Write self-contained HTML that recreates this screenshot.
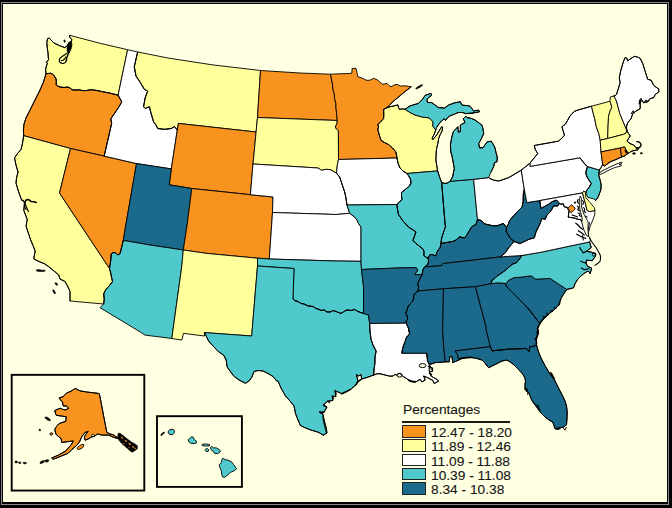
<!DOCTYPE html>
<html><head><meta charset="utf-8"><title>Percentages by state</title>
<style>
html,body{margin:0;padding:0;background:#FFFFE1;}
body{width:672px;height:508px;overflow:hidden;position:relative;font-family:"Liberation Sans",sans-serif;}
svg{position:absolute;left:0;top:0;display:block;}
.st{stroke:#000;stroke-width:0.9;stroke-linejoin:round;}
.ln{stroke:#000;fill:none;stroke-linejoin:round;stroke-linecap:round;}
.lg{position:absolute;font-size:12.8px;line-height:14px;color:#151515;-webkit-text-stroke:0.1px #151515;white-space:pre;transform:scaleX(1.074);transform-origin:0 0;}
</style></head><body>
<svg width="672" height="508" viewBox="0 0 672 508">
<rect x="0" y="0" width="672" height="508" fill="#000"/>
<rect x="1" y="2" width="668" height="503" fill="#8a8a8a"/>
<rect x="2" y="3" width="666" height="501" fill="#000"/>
<rect x="3" y="4" width="664" height="498" fill="#FFFFE1"/>
<path class="st" fill="#FFFF9C" d="M69.7,35.3 100,43.3 127.6,49.7 118.1,95.2 109.6,93.1 102.9,91.8 96.2,90.4 90.9,89.8 86.5,90.5 82.9,90.7 78.8,89.8 75.5,90.2 72.1,89.8 70,88 68.1,87.1 64,87.5 60.1,87.1 57.5,86 56.1,84.4 56.3,81.5 56.1,79.1 54.1,75.7 52.6,74.2 50.7,73.3 46,73.7 45.6,70 46,67.2 47.5,63 46.4,62.2 48.5,59.7 48,53 47.2,47.2 46.8,42.2 47.7,38.4 49.3,38.2 53.9,43 59.3,45.5 64.7,47.6 67.2,45.9 68.9,42.6 71.4,41.7 71.8,39.7 69.7,37.2 69.7,35.3Z"/>
<path class="st" fill="#F7931E" d="M46,73.7 43.5,82 40,90 35,100 30,110 26,118 24,124 23.4,130 23.7,135.7 70.5,148.5 104.2,156.1 111.7,123.4 110.9,118.7 116.7,110.3 119.5,106 121.8,101.9 118.1,95.2 109.6,93.1 102.9,91.8 96.2,90.4 90.9,89.8 86.5,90.5 82.9,90.7 78.8,89.8 75.5,90.2 72.1,89.8 70,88 68.1,87.1 64,87.5 60.1,87.1 57.5,86 56.1,84.4 56.3,81.5 56.1,79.1 54.1,75.7 52.6,74.2 50.7,73.3 46,73.7Z"/>
<path class="st" fill="#FFFF9C" d="M23.7,135.7 22.5,143 21,149.5 17.5,153.5 14.5,158 16,165 18,172 16.5,178 16,183 18,190 21.3,199.3 24.6,202 23.8,210.4 27.2,219.4 26.1,226.2 28.3,233 30.6,239.8 33,245.5 35.2,251.1 33.7,259 39,261.5 45,264 50,267.7 54,271 58.7,275 60,279 65,281.5 67.5,286 70,291.5 70,301 103.7,304 104.3,299 103.7,294 105,291 107.5,287.7 110,285 112.5,281.5 110.5,272 109.5,268.5 59.5,193 70.5,148.5 23.7,135.7Z"/>
<path class="st" fill="#F7931E" d="M70.5,148.5 104.2,156.1 136.5,163.6 125.8,225 123.3,240.4 120.8,250.8 120,253.7 117.9,255 116.2,253.3 115,252.5 112.1,252.9 111.2,254.2 110.8,260 109.5,268.5 59.5,193 70.5,148.5Z"/>
<path class="st" fill="#FFFFFF" d="M127.6,49.7 137.7,52 134.3,66.8 136,76 141,83.5 144.4,89.4 147.7,91.1 145.2,97.8 143.6,106.7 145.2,108.4 149.4,106.7 151.1,113.4 153.6,121.8 156.1,125.1 157.8,128.5 164.5,129.3 171.2,128.5 174.5,126.5 177.3,130.1 171.3,168.9 136.5,163.6 104.2,156.1 111.7,123.4 110.9,118.7 116.7,110.3 119.5,106 121.8,101.9 118.1,95.2 127.6,49.7Z"/>
<path class="st" fill="#FFFF9C" d="M137.7,52 168,58 212,64.8 260.5,70.5 257.5,117.5 256.1,132 178.4,123.4 177.3,130.1 174.5,126.5 171.2,128.5 164.5,129.3 157.8,128.5 156.1,125.1 153.6,121.8 151.1,113.4 149.4,106.7 145.2,108.4 143.6,106.7 145.2,97.8 147.7,91.1 144.4,89.4 141,83.5 136,76 134.3,66.8 137.7,52Z"/>
<path class="st" fill="#F7931E" d="M178.4,123.4 256.1,132 253,164 250.4,194.7 191.8,188.5 169.2,184.8 171.3,168.9 177.3,130.1Z"/>
<path class="st" fill="#1B6A8B" d="M136.5,163.6 171.3,168.9 169.2,184.8 191.8,188.5 187.1,225 183.3,250 150,245 123.3,240.4 125.8,225 136.5,163.6Z"/>
<path class="st" fill="#F7931E" d="M191.8,188.5 250.4,194.7 273,197 272.5,212.5 269.3,259 257.5,258.2 206,253.3 183.3,250 187.1,225 191.8,188.5Z"/>
<path class="st" fill="#4FC9CC" d="M123.3,240.4 150,245 183.3,250 181.7,267 171.8,338.5 145,335.1 140,331.8 100,307.7 103.7,304 104.3,299 103.7,294 105,291 107.5,287.7 110,285 112.5,281.5 110.5,272 109.5,268.5 110.8,260 111.2,254.2 112.1,252.9 115,252.5 116.2,253.3 117.9,255 120,253.7 120.8,250.8 123.3,240.4Z"/>
<path class="st" fill="#FFFF9C" d="M183.3,250 206,253.3 257.5,258.2 257.5,266 251.7,336 204.5,332.6 204.5,336 183.5,333.4 181.9,340.1 171.8,338.5 181.7,267 183.3,250Z"/>
<path class="st" fill="#F7931E" d="M260.5,70.5 300,73 330.5,74.2 331.5,79 332.6,85.1 333,89.5 334.2,93.5 334.6,98.5 335.9,103.5 336,108.5 336.7,113.6 336.9,117 337.3,120.5 257.5,117.5 260.5,70.5Z"/>
<path class="st" fill="#FFFF9C" d="M257.5,117.5 337.3,120.5 336.9,123.6 335.3,127 336.5,129 338.4,130.5 338.5,159.5 337.2,166 336.5,173.2 330.5,169.7 326,169.3 321.7,170.3 318,168 253,164 256.1,132 257.5,117.5Z"/>
<path class="st" fill="#FFFFFF" d="M253,164 318,168 321.7,170.3 326,169.3 330.5,169.7 336.5,173.2 339.7,177 342,184 344.7,192 346,198 347,205 349.7,213.3 336,214.5 272.5,212.5 273,197 250.4,194.7 253,164Z"/>
<path class="st" fill="#FFFFFF" d="M272.5,212.5 336,214.5 349.7,213.3 354.7,217 357,220 358.5,223.5 361,227 361,261.3 336,261 269.3,259 272.5,212.5Z"/>
<path class="st" fill="#4FC9CC" d="M257.5,258.2 269.3,259 336,261 361,261.3 361.5,269.5 363.5,286.5 363.5,313.5 361,312.7 358,311.5 354.7,309.5 351,310.5 347,310 344,311.5 341,313.5 336,311.5 333,310.5 330.5,312 327,312 324,310 321,310.5 318,309 316,308.5 313,306.5 308,306 304,304 301,303.5 298,301.5 295,300.8 293,298.5 294,268.5 257.5,266 257.5,258.2Z"/>
<path class="st" fill="#4FC9CC" d="M257.5,266 294,268.5 293,298.5 295,300.8 298,301.5 301,303.5 304,304 308,306 313,306.5 316,308.5 318,309 321,310.5 324,310 327,312 330.5,312 333,310.5 336,311.5 341,313.5 344,311.5 347,310 351,310.5 354.7,309.5 358,311.5 361,312.7 363.5,313.5 368.5,315 369.7,323.5 370,331 371,339 373,345 376.2,351.2 375,357 375,362.5 374,370 373.7,375 366.9,377.5 361.7,379 361,374.6 358.6,376 356.5,374.6 357.3,378.3 358,380.5 355.8,384.9 350.6,389.4 346,391.8 341.8,393.8 338.8,392.3 335.1,390.8 335.9,396.7 332.2,396 332.9,400.4 327.7,401.2 323.3,404.9 327,407.1 324,412.2 319.6,412.2 323.3,414.5 323.6,418 324.8,423 326.2,428 327,432.9 323.3,435.1 318.1,432.2 310.8,430 304.9,427.7 300.4,425.5 298,420 295.5,413.5 294,406 290,401 285.5,396 281,388 278,381 276.7,381 273,376.5 268,373.5 263,371 258,370.5 254,371.5 252,377 249,381 245.5,383.3 239,380 233.8,376.1 230,371 227.1,366.9 226.2,360.2 223.7,355.2 218.7,351.9 213,346 208.6,341 204.5,332.6 251.7,336 257.5,266Z"/>
<path class="st" fill="#F7931E" d="M330.5,74.2 351.8,73.3 352.1,68.4 356,68.4 357,72.5 357.7,76.7 361,77.6 364.4,79.3 367,80.4 370.2,80.1 373.6,78.3 377.8,80.1 380.3,82.6 382.8,84.3 387,83.4 389,85.5 391.2,86.8 394,85 397,84.3 400.4,86 405,85.8 411.2,86.8 407,90 403.7,92.6 398.5,97 393.7,101 390,104.6 387,107.7 383.6,109.4 383.8,114 383.6,118.6 380.5,122 377.8,124.5 378.6,127 377.8,129.5 379.4,135.3 381.1,140.4 384.5,142.5 388.5,144.5 392.5,148 396,152 397,158 338.5,159.5 338.4,130.5 336.5,129 335.3,127 336.9,123.6 337.3,120.5 336.9,117 336.7,113.6 336,108.5 335.9,103.5 334.6,98.5 334.2,93.5 333,89.5 332.6,85.1 331.5,79 330.5,74.2Z"/>
<path class="st" fill="#FFFFFF" d="M338.5,159.5 397,158 398,163 400,168 403,171 407,173.5 408.5,175.7 410.5,179 411,183 409.5,186 407,188 404,190.5 401.5,192.5 401.5,196 402,199.5 399.5,202 397,204.5 347,205 346,198 344.7,192 342,184 339.7,177 336.5,173.2 337.2,166 338.5,159.5Z"/>
<path class="st" fill="#4FC9CC" d="M347,205 397,204.5 397.5,209.5 398.5,214.5 403,221 408.5,227 413.3,230.1 416,232 414.5,236 413,240.5 416,243.5 419.2,246 423.5,249.5 424.1,252.4 423.8,255.4 427,257.8 428.3,258.5 428.6,260.7 428,264.3 426.5,265.2 425.1,266.9 423.8,267.8 422.9,270.2 422,274.7 414.9,274.7 414.9,273.5 417.3,271.4 417.6,269.6 416.1,267.6 400,267.9 361.5,269.5 361,261.3 361,227 358.5,223.5 357,220 354.7,217 349.7,213.3 347,205Z"/>
<path class="st" fill="#1B6A8B" d="M361.5,269.5 400,267.9 416.1,267.6 417.6,269.6 417.3,271.4 414.9,273.5 414.9,274.7 422,274.7 421.6,275.7 419.5,279.5 417.6,283.6 418.6,287 418.2,291 415.5,293 413.7,295.4 413.6,298.5 412.7,301.3 410,304 407.8,307.2 407.2,310 405.8,313.1 407.2,316 407.8,319 406.2,321 406.4,323.2 369.7,323.5 368.5,315 363.5,313.5 363.5,286.5 361.5,269.5Z"/>
<path class="st" fill="#FFFFFF" d="M369.7,323.5 406.4,323.2 407.5,326 408.8,328.9 409,331.5 409.8,333.8 407.5,336 405.8,338.7 405.2,341.5 403.9,344.6 402.6,348.5 401.9,353.2 426.7,353.2 427.2,357 427.6,361 429.3,364.3 431,368.5 432.7,371 429.3,371.9 431,376 433.5,377.5 436.9,379.4 438.5,381.1 434.3,383.6 432.7,380.2 430,379 427.6,377.7 423.5,376 424.5,378 425.1,380.2 421.8,381.9 420.1,379.4 418,380.5 415.9,381.9 413,381.8 410.1,381.1 406.7,378.6 402.5,376 400,373.5 398.5,373.8 396.7,375.2 395,374.4 393,376 390,376.2 385,375 380,373.7 377,373.8 373.7,375 374,370 375,362.5 375,357 376.2,351.2 373,345 371,339 370,331 369.7,323.5Z"/>
<path class="st" fill="#FFFF9C" d="M383.6,109.4 387,107.7 390.5,106.6 393.7,106 397.8,104.9 398.6,107.5 399.5,109.4 402.5,108.8 405,109.3 410,112.5 415,115 422.5,117.1 429.2,117.9 432.9,121.7 432.9,126.2 435.8,130 434.2,134.2 432.1,138.3 432.9,139.6 436.7,135 439.2,130.8 441.7,126.7 442.6,127.1 442.2,130.8 440.2,134.6 438.7,138.3 437.9,143.3 436.7,148.3 436.2,152 435.9,160 437.6,170.9 407,173.5 403,171 400,168 398,163 397,158 396,152 392.5,148 388.5,144.5 384.5,142.5 381.1,140.4 379.4,135.3 377.8,129.5 378.6,127 377.8,124.5 380.5,122 383.6,118.6 383.8,114 383.6,109.4Z"/>
<path class="st" fill="#4FC9CC" d="M407,173.5 437.6,170.9 440.1,178.5 441.7,182.6 443.5,205 445.1,223.7 445.5,226.7 444,231 442.6,235.1 441.5,239 441,243.5 440.1,247.7 438.5,249.5 436.9,252.4 435.7,256 432.1,254.5 429.8,254.8 428.6,257.4 427,257.8 423.8,255.4 424.1,252.4 423.5,249.5 419.2,246 416,243.5 413,240.5 414.5,236 416,232 413.3,230.1 408.5,227 403,221 398.5,214.5 397.5,209.5 397,204.5 399.5,202 402,199.5 401.5,196 401.5,192.5 404,190.5 407,188 409.5,186 411,183 410.5,179 408.5,175.7 407,173.5Z"/>
<path class="st" fill="#4FC9CC" d="M441.7,182.6 445.1,183.5 447.8,182.8 450.1,181.3 473.6,179.3 477.5,219.5 476,224.5 471.9,226.7 470,229.5 467.8,233.4 465.2,237.6 463,237.8 460.2,236.8 458,238 456,240.1 451.9,241.8 446,242.6 441,243.5 441.5,239 442.6,235.1 444,231 445.5,226.7 445.1,223.7 443.5,205 441.7,182.6Z"/>
<path class="st" fill="#FFFFFF" d="M473.6,179.3 488.6,177.6 491,179 493.6,180.1 498.7,181 504,179.3 508.7,177.6 514,174.5 521.3,170.1 524.3,189.5 523.4,193.4 523.2,201.8 522.1,206.9 519.5,209.5 516.3,212.8 514,215.5 511.2,218.6 509.5,221 508.5,224 506.5,227.3 503.7,223.7 501.2,224.2 497.1,225.9 492,225.6 487,224.5 484.4,223.7 481.1,220.5 477.5,219.5 473.6,179.3Z"/>
<path class="st" fill="#1B6A8B" d="M441,243.5 446,242.6 451.9,241.8 456,240.1 458,238 460.2,236.8 463,237.8 465.2,237.6 467.8,233.4 470,229.5 471.9,226.7 476,224.5 477.5,219.5 481.1,220.5 484.4,223.7 487,224.5 492,225.6 497.1,225.9 501.2,224.2 503.7,223.7 506.5,227.3 506.3,231.8 508.5,235 510.5,238.5 514.2,241.5 511.5,244.5 508.8,247.7 505.4,252.7 503,254.8 500.4,256.9 470,260.5 442.6,263.6 441.8,265.6 425.1,266.9 426.5,265.2 428,264.3 428.6,260.7 428.3,258.5 427,257.8 428.6,257.4 429.8,254.8 432.1,254.5 435.7,256 436.9,252.4 438.5,249.5 440.1,247.7 441,243.5Z"/>
<path class="st" fill="#1B6A8B" d="M425.1,266.9 441.8,265.6 442.6,263.6 470,260.5 500.4,256.9 521.8,255.5 518.8,260.2 516.5,262.7 512.1,264.4 508.5,267.5 505.4,270.3 501,273.5 497.1,276.1 494,279 492,280.3 491.2,283.7 475.4,286.7 443.5,288.8 418.2,291 418.6,287 417.6,283.6 419.5,279.5 421.6,275.7 422,274.7 422.9,270.2 423.8,267.8 425.1,266.9Z"/>
<path class="st" fill="#1B6A8B" d="M418.2,291 443.5,288.8 442.7,330 443.5,345 445.2,361.8 440,362.4 435.2,362.6 432,363.8 429.3,364.3 427.6,361 427.2,357 426.7,353.2 401.9,353.2 402.6,348.5 403.9,344.6 405.2,341.5 405.8,338.7 407.5,336 409.8,333.8 409,331.5 408.8,328.9 407.5,326 406.4,323.2 406.2,321 407.8,319 407.2,316 405.8,313.1 407.2,310 407.8,307.2 410,304 412.7,301.3 413.6,298.5 413.7,295.4 415.5,293 418.2,291Z"/>
<path class="st" fill="#1B6A8B" d="M443.5,288.8 475.4,286.7 486,326.5 486.2,330 488.5,339 490.4,346.7 455.3,350.9 457.8,355.1 458.6,360.1 455.5,361.5 452.8,362.6 452.3,359 451.9,356.5 449.9,356.5 449.6,359 449.4,361.8 445.2,361.8 443.5,345 442.7,330 443.5,288.8Z"/>
<path class="st" fill="#1B6A8B" d="M475.4,286.7 491.2,283.7 498,282.8 505.5,283.5 507,287 511.5,291.5 517,297 520,300.1 524,304 527.5,307.7 531,312 534.2,316 537,320 540.1,323.4 538.5,326 537.6,328.6 538.3,331 538.2,333.6 536.8,336 536,338.6 536.6,342 536.5,345 533,346.5 530,346.5 529.5,349 529,351.5 527.5,350 526.5,348.5 507,349.3 492.1,350.9 490.4,346.7 488.5,339 486.2,330 486,326.5 475.4,286.7Z"/>
<path class="st" fill="#1B6A8B" d="M505.5,283.5 509,280 514,277.7 520,277.3 527,276.3 531.7,275.9 533.8,278 535.9,279.2 550.1,278.4 558.5,284 566.9,289.4 564,293.5 561,298.5 560,301.5 559.3,304.3 556.5,307.5 553.5,310.2 549,313.8 545.1,316.9 542.5,320 540.1,323.4 537,320 534.2,316 531,312 527.5,307.7 524,304 520,300.1 517,297 511.5,291.5 507,287 505.5,283.5Z"/>
<path class="st" fill="#1B6A8B" d="M490.4,346.7 492.1,350.9 507,349.3 526.5,348.5 527.5,350 529,351.5 529.5,349 530,346.5 533,346.5 536.5,345 538.5,352 541.5,359 545.5,366.5 550,374 554,379 558,387 562.7,396 565,401 566.5,406 567.2,412 567,418.5 566.5,424.7 564,427 559,428 555,428.5 554,425.5 552.7,422 549,420 545,417 541,413 537.7,408.5 534.5,404 531.5,399.7 530.5,397 529,393.5 527,391 525,389.7 525,385 525.5,381 525,378 522.7,374 518,369 514,365 511,362.5 507,360.1 502,361 497.1,363.5 493,365.5 488.8,367.7 487.1,366 485,363 482.1,360.1 477,358.5 472,357.6 467,357.8 462,358.5 458.6,360.1 457.8,355.1 455.3,350.9 490.4,346.7Z"/>
<path class="st" fill="#4FC9CC" d="M521.8,255.5 540.2,252.4 560,248.2 589.6,241.9 591.2,247.6 586.5,251.3 591.7,252.3 595.9,254.4 594.9,257 592.3,260.7 586.5,260.2 586,263.3 587.6,266.4 591.7,268 590.2,273.7 588.6,271.2 586.9,271.7 583.5,273.8 580.2,276.7 577.6,279.5 575.2,283.4 573.6,287.8 570,288.7 566.9,289.4 558.5,284 550.1,278.4 535.9,279.2 533.8,278 531.7,275.9 527,276.3 520,277.3 514,277.7 509,280 505.5,283.5 498,282.8 491.2,283.7 492,280.3 494,279 497.1,276.1 501,273.5 505.4,270.3 508.5,267.5 512.1,264.4 516.5,262.7 518.8,260.2 521.8,255.5Z"/>
<path class="st" fill="#4FC9CC" d="M405,109.3 410,112.5 415,115 422.5,117.1 429.2,117.9 432.9,121.7 432.9,126.2 435.8,130 437.1,126.7 440,122.5 444.2,118.7 445.4,120.4 449.2,116.2 453.3,114.6 458.3,112.5 462.5,112.5 465.8,113.7 467,113.5 473,113 479.5,111.8 478.7,110.1 473.7,111 471.5,108 469.5,105.9 462,105.1 460.3,101.7 454,103 448.6,105.1 444.4,108.1 438.5,107.6 435,105 431.8,102.6 427.5,102.5 426.8,99.2 431.8,95 431,93.4 425.1,95.4 422.6,99.2 418.4,103.4 410,105.9 405,109.3Z"/>
<path class="st" fill="#4FC9CC" d="M450.1,181.3 473.6,179.3 488.6,177.6 491.1,171.8 493.6,166.7 494.5,162.6 497,161.7 497.3,157 496.2,153.3 495,148 493.8,145.3 491.2,141.1 487.1,141.9 484.5,145.5 482.9,147.8 479.5,147.8 478.7,143.6 481.5,138.5 483.7,133.6 483,129 482,125.2 478.5,122.5 475.3,120.2 471,118.3 467,117.6 465.8,116.2 463.3,118.7 465,122.5 460.4,125 460.4,131.7 458.3,132.1 457.9,126.7 453.3,131.7 451.7,137.5 450.4,145 450.8,152 451.8,155 454.3,168.4 452.6,176.8 450.1,181.3Z"/>
<path class="st" fill="#1B6A8B" d="M506.5,227.3 508.5,224 509.5,221 511.2,218.6 514,215.5 516.3,212.8 519.5,209.5 522.1,206.9 523.2,201.8 523.4,193.4 524.3,189.5 526.8,202.6 539.8,200.6 541,208.5 545,206.2 548.5,204.3 551.9,201.8 556,200.1 558,201.5 559.4,203.5 557.8,206 553.6,206 551,211 546.9,215.2 545.2,219.4 541.9,218.5 540.2,223.5 536,232 534.3,237.8 528.5,239.5 523.4,242 520,243.6 514.2,241.5 510.5,238.5 508.5,235 506.3,231.8 506.5,227.3Z"/>
<path class="st" fill="#FFFFFF" d="M521.3,170.1 530.1,163 530.1,166.4 560,161.2 580,157.8 582.5,161 585.1,164.5 587.6,166.6 586.2,170.7 586,174 587.7,178.2 591.3,183.5 589,187.5 586.5,190.7 585.4,192.2 583.7,191.2 582.5,192.9 539.8,200.6 526.8,202.6 524.3,189.5 521.3,170.1Z"/>
<path class="st" fill="#FFFFFF" d="M500.4,256.9 503,254.8 505.4,252.7 508.8,247.7 511.5,244.5 514.2,241.5 520,243.6 523.4,242 528.5,239.5 534.3,237.8 536,232 540.2,223.5 541.9,218.5 545.2,219.4 546.9,215.2 551,211 553.6,206 557.8,206 559.4,203.5 560.8,204.2 563.3,203.7 564.2,206.7 567.5,207.5 569.3,210.6 568.7,213.3 568.3,217.1 570.8,217.5 574.2,217.9 577.5,219.2 580.8,219.6 581.7,221.7 582.5,225 584.2,230.8 586.7,235.8 589.2,236.7 590.8,240 589.6,241.9 560,248.2 540.2,252.4 521.8,255.5 500.4,256.9Z"/>
<path class="st" fill="#FFFFFF" d="M539.8,200.6 582.5,192.9 584.2,199.2 585.8,205 587.1,210.4 590,211.7 595,210.4 594.6,215 592.5,220.8 590,226.7 588.3,233.3 587.9,228.3 588.3,222.5 586.7,219.2 584.5,215.5 583,211.5 581.6,207 581.2,202 581.4,198.3 580.4,196 579.6,198.3 579.2,203 579.8,208 580.6,212.5 581.9,217 582.2,220 581.7,221.7 580.8,219.6 577.5,219.2 574.2,217.9 570.8,217.5 568.3,217.1 568.7,213.3 569.3,210.6 567.5,207.5 564.2,206.7 563.3,203.7 560.8,204.2 559.4,203.5 558,201.5 556,200.1 551.9,201.8 548.5,204.3 545,206.2 541,208.5 539.8,200.6Z"/>
<path class="st" fill="#FFFF9C" d="M582.5,192.9 583.7,191.2 585.4,192.2 585.8,197.5 590,202.5 594.2,207.5 595,210.4 590,211.7 587.1,210.4 585.8,205 584.2,199.2Z"/>
<path class="st" fill="#4FC9CC" d="M587.6,166.6 599.3,170 598.8,175.3 600.2,180.4 601.2,185 600.8,190 598.3,196.7 595.8,200.4 593.3,198.7 587.9,197.5 586.2,194.2 586.5,190.7 589,187.5 591.3,183.5 587.7,178.2 586,174 586.2,170.7 587.6,166.6Z"/>
<path class="st" fill="#FFFFFF" d="M530.1,163 532,160.5 534.3,157.8 537.7,153.6 535.2,149.4 534.3,145.5 549.4,142.8 558.6,141.1 562,138 564.5,135.2 563,130.5 561.9,126.8 565.3,124.3 567.5,120.5 569.5,116.7 571.8,113.8 574.5,111.4 578,110 591.5,106.2 593,112.5 594.6,118.4 596.3,126.8 598.8,133.5 600.2,140.2 601,151.9 602.7,164.5 601,167.5 599.3,170 587.6,166.6 585.1,164.5 582.5,161 580,157.8 560,161.2 530.1,166.4 530.1,163Z"/>
<path class="st" fill="#FFFFFF" d="M599.4,173.6 600.2,172 604,170 610,167 616,164.2 621.6,162.2 622.2,163 619,164.6 621.2,164.8 621.4,165.8 614.5,167.6 608,170.6 603,173.2 599.8,174.6Z"/>
<path class="st" fill="#FFFF9C" d="M591.5,106.2 610,101.3 610.9,103.6 611.8,107.8 610,111 608.5,116.7 608,128 607.7,138.5 600.2,140.2 598.8,133.5 596.3,126.8 594.6,118.4 593,112.5 591.5,106.2Z"/>
<path class="st" fill="#FFFF9C" d="M610,101.3 610.3,96.9 612,96.6 613.9,95.9 616.5,101 619.9,113.8 626,128.5 627,131 625.5,133.5 623.6,134.3 607.7,138.5 608,128 608.5,116.7 610,111 611.8,107.8 610.9,103.6 610,101.3Z"/>
<path class="st" fill="#FFFFFF" d="M613.9,95.9 615.4,95.4 616.7,94.2 617.4,91.5 618.4,88.5 620.1,82.7 619.3,77.7 620.9,70.1 623.4,61.7 625.1,57.6 626.8,58.1 627.6,60.9 631,58.5 634.3,56.4 637.5,57 640.2,58.4 642.7,63.4 645.2,71.5 647.7,79.3 651.1,80.2 653.6,85.2 656,87.2 658.6,88.9 658.9,91.9 655.3,94.4 653.6,97.7 650.2,98.6 647.7,101.9 643.5,102.8 641,98.6 640.2,103.6 640.2,108.6 636,111.1 632.7,113.7 631,118.7 627.6,122.9 626.4,127 627,131 626,128.5 619.9,113.8 616.5,101 613.9,95.9Z"/>
<path class="st" fill="#FFFF9C" d="M600.2,140.2 607.7,138.5 623.6,134.3 625.5,133.5 627,131 628.5,133.5 630.3,136 628.5,138.5 627,141 630,143.5 633.7,145.2 636,147.3 638.7,148.3 638,149.8 636,150.2 632,151 629.5,152.5 627.8,153.5 626.1,150.2 624.5,146.9 620.3,148 601,151.9 600.2,140.2Z"/>
<path class="st" fill="#F7931E" d="M601,151.9 620.3,148 621.6,156.9 616,159.5 610.2,161.9 604.4,166.1 602.7,164.5 601,151.9Z"/>
<path class="st" fill="#F7931E" d="M620.3,148 624.5,146.9 626.1,150.2 627.8,153.5 624.5,156 621.6,156.9 620.3,148Z"/>
<path class="st" fill="#F7931E" d="M571.6,204.6 575.4,208.7 571.2,212.9 567.3,208.7Z"/>
<path class="st" fill="#F7931E" d="M59.4,397.7 63.3,396.7 65,394.5 67.2,392.8 71.1,391.2 73.5,389.5 75.8,388.4 78,390 80.4,390.9 86.6,392 93.6,392.8 99.1,393.5 99.8,395.9 106.8,432.4 110,434 113.1,434.7 117.7,437.9 117.7,438.6 113.1,437.1 108.4,435.1 102.2,435.1 97.5,434 94.4,436.3 91.3,437.1 89,438.6 85.1,440.2 84.3,437.1 86,434 88.2,431.6 85.1,432.4 82,436.3 79.6,441.7 77.3,444.8 71.9,449.5 68,453.4 60.2,456.5 53.2,459.3 51.7,458.1 58.7,454.9 65.6,451.1 71.1,444.8 73.4,441 67.2,441.7 61.8,442.5 61,438.6 58.5,436.5 56.3,434.7 55.3,432 54.8,429.3 56.5,426.5 58.7,423.9 62,422.5 65.6,421.5 66.4,416.9 61.8,416.1 56.3,415.3 55.3,413 54.8,410.6 57.5,409.3 60.2,408.3 62.5,409.3 64.9,409.9 67,409.3 68.8,408.3 66.4,406 63.3,406 62.7,404 62.5,402.1 60.5,400Z"/>
<path fill="#000" stroke="#000" stroke-width="0.6" stroke-linejoin="round" d="M45,417 47.5,417.3 50,419.3 50.5,420.8 48,420.3 45.5,418.5Z"/>
<path fill="#000" stroke="#000" stroke-width="0.6" stroke-linejoin="round" d="M39,429.3 40.3,429.3 40.6,430.7 39.3,430.8Z"/>
<path class="st" fill="#F7931E" stroke-width="0.9" d="M50,433.2 52.2,432.8 53,434 51.5,435.2 50,434.6Z"/>
<path class="st" fill="#F7931E" stroke-width="1" d="M77.3,447.5 79.5,445.8 82,444.3 83.8,444.6 83.3,447 81,448.8 78.5,449.6 77.2,449Z"/>
<path fill="#000" stroke="#000" stroke-width="0.6" stroke-linejoin="round" d="M15,461.3 17,461 17.8,462.3 16,463 15,462.5Z"/>
<path fill="#000" stroke="#000" stroke-width="0.6" stroke-linejoin="round" d="M18.5,462.3 20.5,462 21,463.3 19,463.6Z"/>
<path fill="#000" stroke="#000" stroke-width="0.6" stroke-linejoin="round" d="M23,462.6 25.7,462.2 26.5,463.4 24,464Z"/>
<path fill="#000" stroke="#000" stroke-width="0.6" stroke-linejoin="round" d="M40,462.2 42.5,460.8 44.5,460.6 44,462.3 41.5,463.5 40.2,463.5Z"/>
<path fill="#000" stroke="#000" stroke-width="0.6" stroke-linejoin="round" d="M44.8,460.6 47.5,459.6 48.8,460 48.3,461.6 45.8,462.2Z"/>
<path fill="#000" stroke="#000" stroke-width="0.6" stroke-linejoin="round" d="M118.3,433 120.5,433.6 124,436.3 128,439.6 132,442.3 135,444 137.4,445.8 137.4,448.8 135,450.6 132.6,452.2 130.6,451.3 127.5,448.6 124.5,446 121.5,443.3 119,440.3 117.5,437.5Z"/>
<path fill="#F7931E" d="M120.6,436.4l1.8,0.6l1,1.6l-1.6,0.1zM124.3,439.6l2,0.8l0.8,1.5l-1.8,-0.2zM123,443l1.2,0.3l0.4,1l-1.1,-0.2zM128.3,442.8l2,0.8l0.7,1.5l-1.9,-0.3zM128.3,447l1.2,0.4l0.3,1l-1.1,-0.3zM132,446l1.8,0.6l0.4,1.4l-1.6,-0.2zM134.6,447.6l1.3,0.3l-0.2,1.2l-1.1,-0.2z"/>
<ellipse cx="93" cy="435.3" rx="1.5" ry="1.1" fill="#FFFFE1" stroke="#000" stroke-width="0.7"/>
<rect x="11.7" y="374.85" width="132.6" height="115.7" fill="none" stroke="#000" stroke-width="1.9"/>
<rect x="157" y="416.2" width="84.9" height="70.7" fill="none" stroke="#000" stroke-width="1.9"/>
<path class="ln" stroke-width="1.7" d="M161.3,435 162.6,433.6 164,432.6"/>
<path class="st" fill="#4FC9CC" stroke-width="1.3" d="M168.3,431 170,429.6 173,429.2 174.4,430.4 174.2,433 172.6,434.6 169.8,434.4 168.2,433Z"/>
<path class="st" fill="#4FC9CC" stroke-width="1.3" d="M188.3,439.6 190.6,437.8 191.6,436.6 193.2,437.2 194.3,439.6 196.3,441 196.6,442.8 194,443.6 190.6,443.2 188.5,441.4Z"/>
<path class="st" fill="#4FC9CC" stroke-width="1.2" d="M202,444.4 205.5,443.9 209.6,444.5 209.4,446 205.5,446 202.3,445.7Z"/>
<path class="st" fill="#4FC9CC" stroke-width="1.2" d="M205.4,449.2 207.3,448.4 208.7,449.6 208.2,451.4 206.2,451.6 205.2,450.5Z"/>
<path class="st" fill="#4FC9CC" stroke-width="1.3" d="M210.4,447.4 211.8,446.4 213.4,447.8 216.4,447.9 219.6,449.8 220.3,451.8 217.8,453.6 214.6,453.4 213,451 211,449.6Z"/>
<path class="st" fill="#4FC9CC" stroke-width="1.3" d="M222,459 223.3,458.3 225,459.6 227.6,460 231.5,461.8 233.6,464.5 236.6,468.8 234.2,470.8 230.5,472.4 227.6,475 224.6,477.4 222.6,477 221.6,474 221.3,470.6 219.6,466.8 219.4,464.6 221.4,462.6Z"/>
<path fill="#000" stroke="#000" stroke-width="0.6" stroke-linejoin="round" d="M415.8,88.3 418,86.6 420.5,85.3 422.3,84.6 422.3,85.6 420,87.2 417.5,88.6 416,89Z"/>
<path fill="#000" stroke="#000" stroke-width="0.6" stroke-linejoin="round" d="M36,270 39,269.6 42,270.2 45,270.2 45,271.3 41,271.5 37,271.3Z"/>
<path fill="#000" stroke="#000" stroke-width="0.6" stroke-linejoin="round" d="M55,282.8 56.8,283 57.8,285 56.5,285.3 55.2,284Z"/>
<path fill="#000" stroke="#000" stroke-width="0.6" stroke-linejoin="round" d="M52.8,289.8 54,290 55.7,293.3 54.6,293.8 53,291.5Z"/>
<path class="ln" stroke-width="1.2" d="M21.6,200 24,201.6 25.2,204 26.6,207.5 28.4,211.5"/>
<path class="ln" stroke-width="1.5" d="M24.4,203.5 26,200 28.6,199.6 31,201.4 34,201.8 36.3,202.4"/>
<path class="ln" stroke-width="1.1" d="M25.2,204 24.6,207 26,209.5"/>
<path fill="#000" stroke="#000" stroke-width="0.6" stroke-linejoin="round" d="M67.2,45.9 68.9,42.6 71.4,41.7 72,44.5 71.6,47.5 70.6,50 69.6,52.5 68.4,53.6 67.4,52.2 67,49.5Z"/>
<path fill="#000" stroke="#000" stroke-width="0.6" stroke-linejoin="round" d="M63.8,40 64.8,39.9 65.4,41.5 64.9,42.4 64,41.6Z"/>
<path class="ln" stroke-width="1.5" d="M68.6,53 67.6,55.5 66.6,58 66.4,60.5"/>
<path class="ln" stroke-width="1.2" d="M66.4,53.5 64.5,55 62,56.6 60,58.2 59.2,60 59.6,62 61.2,63.2 63.2,63.5 65,62.8 66.4,60.8"/>
<path class="ln" stroke-width="1.1" d="M61.2,60.6 63,60.2 64.6,59 65.6,57"/>
<path class="ln" stroke-width="0.9" d="M322.8,415.5 323.2,420 324.3,425 325.6,430 326.3,432.6"/>
<path class="ln" stroke-width="1.4" d="M319.6,412.2 322,413 324,412.2"/>
<path class="ln" stroke-width="1.4" d="M323.3,404.9 325.5,406.6"/>
<path class="ln" stroke-width="1.3" d="M327.7,401.2 329.5,402.6"/>
<path class="ln" stroke-width="1.3" d="M332.2,396 333.6,398.5"/>
<path class="ln" stroke-width="1.3" d="M335.1,390.8 336.2,394"/>
<path class="ln" stroke-width="1.5" d="M341.8,393.8 346,391.8 350.6,389.4"/>
<path class="ln" stroke-width="1.5" d="M355.8,384.9 358,381.6 361.2,379.4"/>
<ellipse cx="422.6" cy="365.6" rx="3.4" ry="2" fill="#FFFFE1" stroke="#000" stroke-width="1"/>
<ellipse cx="399.6" cy="375.2" rx="2.6" ry="1.9" fill="#FFFFE1" stroke="#000" stroke-width="1"/>
<ellipse cx="430.9" cy="369.6" rx="1.8" ry="2.2" fill="#FFFFE1" stroke="#000" stroke-width="1.1"/>
<path class="ln" stroke-width="1.4" d="M428.4,366.3 430,367.3"/>
<path class="ln" stroke-width="1.4" d="M429.5,373 431.5,374.6"/>
<path fill="#000" stroke="#000" stroke-width="0.6" stroke-linejoin="round" d="M408.5,379.5 412,380.8 415.5,381.3 415.5,382.3 411.5,382 408.2,380.6Z"/>
<path class="ln" stroke-width="1.3" d="M460,358.4 466,357.3 472,357.1"/>
<path class="ln" stroke-width="1.4" d="M555.3,428.6 557.5,429.3 560,428.6"/>
<path class="ln" stroke-width="1" d="M563.5,428.3 565,430.2 566.2,427.5"/>
<path class="ln" stroke-width="1.5" d="M537.4,329 538.6,326 540.3,323"/>
<path class="ln" stroke-width="1.5" d="M536.4,344 536.3,339 538,334 537.6,330"/>
<path class="ln" stroke-width="1.1" d="M536.2,339.5 534.8,338.6"/>
<path class="ln" stroke-width="1.1" d="M537.8,333.5 536.2,332.6"/>
<path class="ln" stroke-width="1.5" d="M541,321.8 544.5,317.6 548,314.5"/>
<path class="ln" stroke-width="1.1" d="M543,316.3 545.5,317"/>
<path class="ln" stroke-width="1.1" d="M546.5,313.2 548.6,314.6"/>
<path class="ln" stroke-width="1.1" d="M550.5,310.5 552.6,311.6"/>
<path class="ln" stroke-width="1.1" d="M554,307.6 556,308.6"/>
<path class="ln" stroke-width="1.4" d="M558.5,305.5 559.8,303"/>
<path fill="#000" stroke="#000" stroke-width="0.6" stroke-linejoin="round" d="M550.2,372.2 551.6,372.8 553.4,376 554.6,378.6 553.8,379.3 552,377 550.6,374.5Z"/>
<path class="ln" stroke-width="1.2" d="M525.3,388.5 527.4,389.4 526.6,391.4 528.5,392.3 527.6,394.2"/>
<path class="ln" stroke-width="1.2" d="M536.6,405.2 538.8,406 538,408.2 540,409.4"/>
<path class="ln" stroke-width="1.2" d="M533,402.2 534.8,404"/>
<path class="ln" stroke-width="1.1" d="M589.6,238.3 591.5,241.5 593.8,244.5 596.3,248 598.5,251.8 600,254.5 600.6,257 600.4,259.5 600.1,261.2 598,263.3 594.9,265.4"/>
<path class="ln" stroke-width="1.2" d="M579.7,247.6 581.5,250.5 583.4,252.9 586.5,251.3"/>
<path class="ln" stroke-width="1.2" d="M580.8,261.2 583.5,262.3 586,262.8"/>
<path class="ln" stroke-width="1.2" d="M581.3,268 583.5,269.3 585.5,269.6 589.1,268.5"/>
<path class="st" fill="#4FC9CC" stroke-width="0.9" d="M593,252.6 595.5,253 595.8,255.5 593.3,256.3 592.3,254.5Z"/>
<path class="ln" stroke-width="1.3" d="M575.8,223.3 578,225 580,227.3 582.5,229.2"/>
<path class="ln" stroke-width="1.3" d="M578.3,230.8 581,232.5 584.2,235"/>
<path class="ln" stroke-width="1.3" d="M576.7,234.2 580,236 583,237.5 585.8,238.3"/>
<path class="ln" stroke-width="1.1" d="M582.5,235.5 583.3,240"/>
<path class="ln" stroke-width="1.2" d="M578.2,199.6 577.3,201.5 578.4,203.3"/>
<path class="ln" stroke-width="1.2" d="M577.4,206.2 578.8,207.6 577.8,209.5 579.4,210.8"/>
<path class="ln" stroke-width="1.1" d="M578,213 580,213.8 579.3,215.6 581.3,216.5"/>
<path class="ln" stroke-width="1.1" d="M582.6,200.5 583.6,202.5 582.8,204.5"/>
<path class="ln" stroke-width="1.1" d="M583.6,207.5 584.8,209.3 584,211 585.6,212.6"/>
<path class="ln" stroke-width="1.1" d="M585.6,216 587,217.2"/>
<path fill="#000" stroke="#000" stroke-width="0.6" stroke-linejoin="round" d="M574.2,202 575.4,201.8 575.8,203 574.6,203.4Z"/>
<path class="ln" stroke-width="1.1" d="M572,215 574.5,215.8 577.5,217"/>
<path class="ln" stroke-width="0.9" d="M589.5,222.5 588.9,226 588.5,229.5"/>
<path class="ln" stroke-width="1" d="M588.3,233.3 588.6,236.3"/>
<path class="ln" stroke-width="1.4" d="M636.4,148.4 638.7,147.9 640.8,146.2 641,144.6 640.4,143.2 638.7,141.7 636.9,141.7"/>
<path fill="#000" stroke="#000" stroke-width="0.6" stroke-linejoin="round" d="M632.5,153.2 634.2,152.6 635.6,153.2 634.8,154.2 633,154.2Z"/>
<path fill="#000" stroke="#000" stroke-width="0.6" stroke-linejoin="round" d="M640,153.3 641.5,152.3 642.6,153.5 641,154Z"/>
<path fill="#000" stroke="#000" stroke-width="0.6" stroke-linejoin="round" d="M624.9,150 626.5,150.3 627.5,152.5 626.5,153.3 625.3,152Z"/>
<path class="ln" stroke-width="1.1" d="M639.5,100 639.2,104 641,101.5"/>
<path class="ln" stroke-width="1.1" d="M631.5,113.5 633,111 634,113"/>
<path class="ln" stroke-width="1.1" d="M644,102.3 646,100.3 647.5,101.5 650,98.8"/>
<path class="ln" stroke-width="1" d="M467,113.5 470,113.6 473,113.2"/>
<path class="ln" stroke-width="1.0" d="M46,73.7 45.6,70 46,67.2 47.5,63 46.4,62.2 48.5,59.7 48,53 47.2,47.2 46.8,42.2 47.7,38.4 49.3,38.2 53.9,43 59.3,45.5 64.7,47.6 67.2,45.9 68.9,42.6 71.4,41.7 71.8,39.7 69.7,37.2 69.7,35.3"/>
<path class="ln" stroke-width="1.0" d="M46,73.7 43.5,82 40,90 35,100 30,110 26,118 24,124 23.4,130 23.7,135.7"/>
<path class="ln" stroke-width="1.0" d="M23.7,135.7 22.5,143 21,149.5 17.5,153.5 14.5,158 16,165 18,172 16.5,178 16,183 18,190 21.3,199.3 24.6,202 23.8,210.4 27.2,219.4 26.1,226.2 28.3,233 30.6,239.8 33,245.5 35.2,251.1 33.7,259 39,261.5 45,264 50,267.7 54,271 58.7,275 60,279 65,281.5 67.5,286 70,291.5 70,301"/>
<path class="ln" stroke-width="1.0" d="M323.3,435.1 327,432.9 326.2,428 324.8,423 323.6,418 323.3,414.5 319.6,412.2 324,412.2 327,407.1 323.3,404.9 327.7,401.2 332.9,400.4 332.2,396 335.9,396.7 335.1,390.8 338.8,392.3 341.8,393.8 346,391.8 350.6,389.4 355.8,384.9 358,380.5 357.3,378.3 356.5,374.6 358.6,376 361,374.6 361.7,379 366.9,377.5 373.7,375"/>
<path class="ln" stroke-width="1.0" d="M373.7,375 377,373.8 380,373.7 385,375 390,376.2 393,376 395,374.4 396.7,375.2 398.5,373.8 400,373.5 402.5,376 406.7,378.6 410.1,381.1 413,381.8 415.9,381.9 418,380.5 420.1,379.4 421.8,381.9 425.1,380.2 424.5,378 423.5,376 427.6,377.7 430,379 432.7,380.2 434.3,383.6 438.5,381.1 436.9,379.4 433.5,377.5 431,376 429.3,371.9 432.7,371 431,368.5 429.3,364.3"/>
<path class="ln" stroke-width="1.0" d="M445.2,361.8 440,362.4 435.2,362.6 432,363.8 429.3,364.3"/>
<path class="ln" stroke-width="1.0" d="M458.6,360.1 455.5,361.5 452.8,362.6 452.3,359 451.9,356.5 449.9,356.5 449.6,359 449.4,361.8 445.2,361.8"/>
<path class="ln" stroke-width="1.0" d="M458.6,360.1 462,358.5 467,357.8 472,357.6 477,358.5 482.1,360.1 485,363 487.1,366 488.8,367.7 493,365.5 497.1,363.5 502,361 507,360.1 511,362.5 514,365 518,369 522.7,374 525,378 525.5,381 525,385 525,389.7 527,391 529,393.5 530.5,397 531.5,399.7 534.5,404 537.7,408.5 541,413 545,417 549,420 552.7,422 554,425.5 555,428.5 559,428 564,427 566.5,424.7"/>
<path class="ln" stroke-width="1.0" d="M536.5,345 538.5,352 541.5,359 545.5,366.5 550,374 554,379 558,387 562.7,396 565,401 566.5,406 567.2,412 567,418.5 566.5,424.7"/>
<path class="ln" stroke-width="1.0" d="M540.1,323.4 538.5,326 537.6,328.6 538.3,331 538.2,333.6 536.8,336 536,338.6 536.6,342 536.5,345"/>
<path class="ln" stroke-width="1.0" d="M566.9,289.4 564,293.5 561,298.5 560,301.5 559.3,304.3 556.5,307.5 553.5,310.2 549,313.8 545.1,316.9 542.5,320 540.1,323.4"/>
<path class="ln" stroke-width="1.0" d="M566.9,289.4 570,288.7 573.6,287.8 575.2,283.4 577.6,279.5 580.2,276.7 583.5,273.8 586.9,271.7 588.6,271.2 590.2,273.7 591.7,268 587.6,266.4 586,263.3 586.5,260.2 592.3,260.7 594.9,257 595.9,254.4 591.7,252.3 586.5,251.3 591.2,247.6 589.6,241.9"/>
<path class="ln" stroke-width="1.0" d="M599.3,170 598.8,175.3 600.2,180.4 601.2,185 600.8,190 598.3,196.7 595.8,200.4"/>
<path class="ln" stroke-width="1.0" d="M621.6,156.9 616,159.5 610.2,161.9 604.4,166.1 602.7,164.5"/>
<path class="ln" stroke-width="1.0" d="M627.8,153.5 624.5,156 621.6,156.9"/>
<path class="ln" stroke-width="1.0" d="M627,131 628.5,133.5 630.3,136 628.5,138.5 627,141 630,143.5 633.7,145.2 636,147.3 638.7,148.3 638,149.8 636,150.2 632,151 629.5,152.5 627.8,153.5"/>
<path class="ln" stroke-width="1.0" d="M613.9,95.9 615.4,95.4 616.7,94.2 617.4,91.5 618.4,88.5 620.1,82.7 619.3,77.7 620.9,70.1 623.4,61.7 625.1,57.6 626.8,58.1 627.6,60.9 631,58.5 634.3,56.4 637.5,57 640.2,58.4 642.7,63.4 645.2,71.5 647.7,79.3 651.1,80.2 653.6,85.2 656,87.2 658.6,88.9 658.9,91.9 655.3,94.4 653.6,97.7 650.2,98.6 647.7,101.9 643.5,102.8 641,98.6 640.2,103.6 640.2,108.6 636,111.1 632.7,113.7 631,118.7 627.6,122.9 626.4,127 627,131"/>
<path class="ln" stroke-width="1.0" d="M530.1,163 532,160.5 534.3,157.8 537.7,153.6 535.2,149.4 534.3,145.5 549.4,142.8 558.6,141.1 562,138 564.5,135.2 563,130.5 561.9,126.8 565.3,124.3 567.5,120.5 569.5,116.7 571.8,113.8 574.5,111.4 578,110 591.5,106.2"/>
<path class="ln" stroke-width="1.0" d="M488.6,177.6 491,179 493.6,180.1 498.7,181 504,179.3 508.7,177.6 514,174.5 521.3,170.1"/>
<path class="ln" stroke-width="1.0" d="M521.3,170.1 530.1,163"/>
<path class="ln" stroke-width="1.0" d="M435.8,130 434.2,134.2 432.1,138.3 432.9,139.6 436.7,135 439.2,130.8 441.7,126.7 442.6,127.1 442.2,130.8 440.2,134.6 438.7,138.3 437.9,143.3 436.7,148.3 436.2,152 435.9,160 437.6,170.9"/>
<path class="ln" stroke-width="1.0" d="M383.6,109.4 387,107.7 390.5,106.6 393.7,106 397.8,104.9 398.6,107.5 399.5,109.4 402.5,108.8 405,109.3"/>
<path class="ln" stroke-width="1.0" d="M411.2,86.8 407,90 403.7,92.6 398.5,97 393.7,101 390,104.6 387,107.7 383.6,109.4"/>
<path class="ln" stroke-width="1.0" d="M437.6,170.9 440.1,178.5 441.7,182.6"/>
<path class="ln" stroke-width="1.0" d="M441.7,182.6 445.1,183.5 447.8,182.8 450.1,181.3"/>
<path class="ln" stroke-width="1.0" d="M602.7,164.5 601,167.5 599.3,170"/>
<path class="ln" stroke-width="0.95" d="M418.2,291 415.5,293 413.7,295.4 413.6,298.5 412.7,301.3 410,304 407.8,307.2 407.2,310 405.8,313.1 407.2,316 407.8,319 406.2,321 406.4,323.2"/>
<path class="ln" stroke-width="0.95" d="M406.4,323.2 407.5,326 408.8,328.9 409,331.5 409.8,333.8 407.5,336 405.8,338.7 405.2,341.5 403.9,344.6 402.6,348.5 401.9,353.2"/>
<path class="ln" stroke-width="0.95" d="M422,274.7 421.6,275.7 419.5,279.5 417.6,283.6 418.6,287 418.2,291"/>
<path class="ln" stroke-width="0.95" d="M422,274.7 422.9,270.2 423.8,267.8 425.1,266.9"/>
<path class="ln" stroke-width="0.95" d="M425.1,266.9 426.5,265.2 428,264.3 428.6,260.7 428.3,258.5 427,257.8"/>
<path class="ln" stroke-width="0.95" d="M397,204.5 397.5,209.5 398.5,214.5 403,221 408.5,227 413.3,230.1 416,232 414.5,236 413,240.5 416,243.5 419.2,246 423.5,249.5 424.1,252.4 423.8,255.4 427,257.8"/>
<path class="ln" stroke-width="0.95" d="M407,173.5 408.5,175.7 410.5,179 411,183 409.5,186 407,188 404,190.5 401.5,192.5 401.5,196 402,199.5 399.5,202 397,204.5"/>
<path class="ln" stroke-width="0.95" d="M397,158 398,163 400,168 403,171 407,173.5"/>
<path class="ln" stroke-width="0.95" d="M441,243.5 446,242.6 451.9,241.8 456,240.1 458,238 460.2,236.8 463,237.8 465.2,237.6 467.8,233.4 470,229.5 471.9,226.7 476,224.5 477.5,219.5"/>
<path class="ln" stroke-width="0.95" d="M477.5,219.5 481.1,220.5 484.4,223.7 487,224.5 492,225.6 497.1,225.9 501.2,224.2 503.7,223.7 506.5,227.3"/>
<path class="ln" stroke-width="0.95" d="M427,257.8 428.6,257.4 429.8,254.8 432.1,254.5 435.7,256 436.9,252.4 438.5,249.5 440.1,247.7 441,243.5"/>
<path class="ln" stroke-width="0.95" d="M506.5,227.3 508.5,224 509.5,221 511.2,218.6 514,215.5 516.3,212.8 519.5,209.5 522.1,206.9 523.2,201.8 523.4,193.4 524.3,189.5"/>
<path class="ln" stroke-width="0.95" d="M514.2,241.5 510.5,238.5 508.5,235 506.3,231.8 506.5,227.3"/>
<path class="ln" stroke-width="0.95" d="M383.6,109.4 383.8,114 383.6,118.6 380.5,122 377.8,124.5 378.6,127 377.8,129.5 379.4,135.3 381.1,140.4 384.5,142.5 388.5,144.5 392.5,148 396,152 397,158"/>
<path class="ln" stroke-width="0.95" d="M336.5,173.2 339.7,177 342,184 344.7,192 346,198 347,205"/>
<path class="ln" stroke-width="0.95" d="M293,298.5 295,300.8 298,301.5 301,303.5 304,304 308,306 313,306.5 316,308.5 318,309 321,310.5 324,310 327,312 330.5,312 333,310.5 336,311.5 341,313.5 344,311.5 347,310 351,310.5 354.7,309.5 358,311.5 361,312.7 363.5,313.5"/>
<path class="ln" stroke-width="0.95" d="M559.4,203.5 560.8,204.2 563.3,203.7 564.2,206.7 567.5,207.5 569.3,210.6 568.7,213.3 568.3,217.1 570.8,217.5 574.2,217.9 577.5,219.2 580.8,219.6 581.7,221.7"/>
<path class="ln" stroke-width="0.95" d="M118.1,95.2 109.6,93.1 102.9,91.8 96.2,90.4 90.9,89.8 86.5,90.5 82.9,90.7 78.8,89.8 75.5,90.2 72.1,89.8 70,88 68.1,87.1 64,87.5 60.1,87.1 57.5,86 56.1,84.4 56.3,81.5 56.1,79.1 54.1,75.7 52.6,74.2 50.7,73.3 46,73.7"/>
<path class="ln" stroke-width="0.95" d="M426.7,353.2 427.2,357 427.6,361 429.3,364.3"/>
<path class="ln" stroke-width="0.95" d="M505.5,283.5 507,287 511.5,291.5 517,297 520,300.1 524,304 527.5,307.7 531,312 534.2,316 537,320 540.1,323.4"/>
<path class="ln" stroke-width="0.95" d="M559.4,203.5 557.8,206 553.6,206 551,211 546.9,215.2 545.2,219.4 541.9,218.5 540.2,223.5 536,232 534.3,237.8 528.5,239.5 523.4,242 520,243.6 514.2,241.5"/>
<path class="ln" stroke-width="0.95" d="M539.8,200.6 541,208.5 545,206.2 548.5,204.3 551.9,201.8 556,200.1 558,201.5 559.4,203.5"/>
<path class="ln" stroke-width="0.95" d="M109.5,268.5 110.5,272 112.5,281.5 110,285 107.5,287.7 105,291 103.7,294 104.3,299 103.7,304"/>
<path class="ln" stroke-width="0.95" d="M123.3,240.4 120.8,250.8 120,253.7 117.9,255 116.2,253.3 115,252.5 112.1,252.9 111.2,254.2 110.8,260 109.5,268.5"/>
<path class="ln" stroke-width="0.95" d="M441.7,182.6 443.5,205 445.1,223.7 445.5,226.7 444,231 442.6,235.1 441.5,239 441,243.5"/>
<path class="ln" stroke-width="0.95" d="M514.2,241.5 511.5,244.5 508.8,247.7 505.4,252.7 503,254.8 500.4,256.9"/>
<path class="ln" stroke-width="0.95" d="M521.8,255.5 518.8,260.2 516.5,262.7 512.1,264.4 508.5,267.5 505.4,270.3 501,273.5 497.1,276.1 494,279 492,280.3 491.2,283.7"/>
<path class="ln" stroke-width="0.95" d="M587.6,166.6 586.2,170.7 586,174 587.7,178.2 591.3,183.5 589,187.5 586.5,190.7"/>
<path class="ln" stroke-width="0.95" d="M580,157.8 582.5,161 585.1,164.5 587.6,166.6"/>
<path class="ln" stroke-width="0.95" d="M137.7,52 134.3,66.8 136,76 141,83.5 144.4,89.4 147.7,91.1 145.2,97.8 143.6,106.7 145.2,108.4 149.4,106.7 151.1,113.4 153.6,121.8 156.1,125.1 157.8,128.5 164.5,129.3 171.2,128.5 174.5,126.5 177.3,130.1"/>
<path class="ln" stroke-width="0.95" d="M118.1,95.2 121.8,101.9 119.5,106 116.7,110.3 110.9,118.7 111.7,123.4 104.2,156.1"/>
<path class="ln" stroke-width="0.95" d="M204.5,332.6 208.6,341 213,346 218.7,351.9 223.7,355.2 226.2,360.2 227.1,366.9 230,371 233.8,376.1 239,380 245.5,383.3 249,381 252,377 254,371.5 258,370.5 263,371 268,373.5 273,376.5 276.7,381 278,381 281,388 285.5,396 290,401 294,406 295.5,413.5 298,420 300.4,425.5 304.9,427.7 310.8,430 318.1,432.2 323.3,435.1"/>
<path class="ln" stroke-width="0.95" d="M369.7,323.5 370,331 371,339 373,345 376.2,351.2 375,357 375,362.5 374,370 373.7,375"/>
<path class="ln" stroke-width="0.95" d="M536.5,345 533,346.5 530,346.5 529.5,349 529,351.5 527.5,350 526.5,348.5 507,349.3 492.1,350.9 490.4,346.7"/>
<path class="ln" stroke-width="1.0" d="M437.1,126.7 440,122.5 444.2,118.7 445.4,120.4 449.2,116.2 453.3,114.6 458.3,112.5 462.5,112.5 465.8,113.7 467,113.5 473,113 479.5,111.8 478.7,110.1 473.7,111 471.5,108 469.5,105.9 462,105.1 460.3,101.7 454,103 448.6,105.1 444.4,108.1 438.5,107.6 435,105 431.8,102.6 427.5,102.5 426.8,99.2 431.8,95 431,93.4 425.1,95.4 422.6,99.2 418.4,103.4 410,105.9 405,109.3"/>
<path class="ln" stroke-width="1.0" d="M491.1,171.8 493.6,166.7 494.5,162.6 497,161.7 497.3,157 496.2,153.3 495,148 493.8,145.3 491.2,141.1 487.1,141.9 484.5,145.5 482.9,147.8 479.5,147.8 478.7,143.6 481.5,138.5 483.7,133.6 483,129 482,125.2 478.5,122.5 475.3,120.2 471,118.3 467,117.6 465.8,116.2 463.3,118.7 465,122.5 460.4,125 460.4,131.7 458.3,132.1 457.9,126.7 453.3,131.7 451.7,137.5 450.4,145 450.8,152 451.8,155 454.3,168.4 452.6,176.8 450.1,181.3"/>
<path class="ln" stroke-width="1.0" d="M59.4,397.7 63.3,396.7 65,394.5 67.2,392.8 71.1,391.2 73.5,389.5 75.8,388.4 78,390 80.4,390.9 86.6,392 93.6,392.8 99.1,393.5 99.8,395.9 106.8,432.4 110,434 113.1,434.7 117.7,437.9 117.7,438.6 113.1,437.1 108.4,435.1 102.2,435.1 97.5,434 94.4,436.3 91.3,437.1 89,438.6 85.1,440.2 84.3,437.1 86,434 88.2,431.6 85.1,432.4 82,436.3 79.6,441.7 77.3,444.8 71.9,449.5 68,453.4 60.2,456.5 53.2,459.3 51.7,458.1 58.7,454.9 65.6,451.1 71.1,444.8 73.4,441 67.2,441.7 61.8,442.5 61,438.6 58.5,436.5 56.3,434.7 55.3,432 54.8,429.3 56.5,426.5 58.7,423.9 62,422.5 65.6,421.5 66.4,416.9 61.8,416.1 56.3,415.3 55.3,413 54.8,410.6 57.5,409.3 60.2,408.3 62.5,409.3 64.9,409.9 67,409.3 68.8,408.3 66.4,406 63.3,406 62.7,404 62.5,402.1 60.5,400Z"/>
</svg>
<div class="lg" style="left:402.5px;top:403.2px;">Percentages</div>
<div style="position:absolute;left:402px;top:421.4px;width:108px;height:1.6px;background:#1a1a1a;"></div>
<div style="position:absolute;left:402.2px;top:425.00px;width:21.5px;height:10.5px;background:#F7931E;border:1px solid #222;"></div>
<div class="lg" style="left:431.2px;top:425.75px;">12.47 - 18.20</div>
<div style="position:absolute;left:402.2px;top:439.27px;width:21.5px;height:10.5px;background:#FFFF9C;border:1px solid #222;"></div>
<div class="lg" style="left:431.2px;top:440.16px;">11.89 - 12.46</div>
<div style="position:absolute;left:402.2px;top:453.54px;width:21.5px;height:10.5px;background:#FFFFFF;border:1px solid #222;"></div>
<div class="lg" style="left:431.2px;top:454.57px;">11.09 - 11.88</div>
<div style="position:absolute;left:402.2px;top:467.81px;width:21.5px;height:10.5px;background:#4FC9CC;border:1px solid #222;"></div>
<div class="lg" style="left:431.2px;top:468.98px;">10.39 - 11.08</div>
<div style="position:absolute;left:402.2px;top:482.08px;width:21.5px;height:10.5px;background:#1B6A8B;border:1px solid #222;"></div>
<div class="lg" style="left:431.2px;top:483.39px;">8.34 - 10.38</div>
</body></html>
